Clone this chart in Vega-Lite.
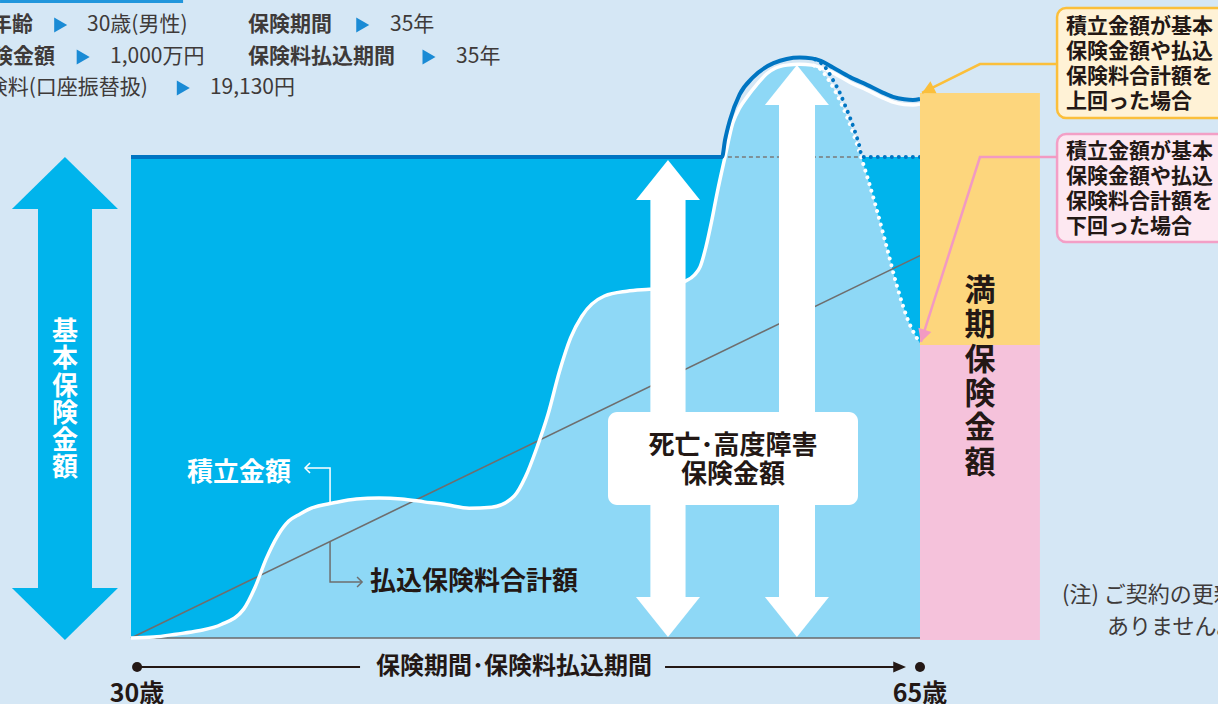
{
  "$schema": "https://vega.github.io/schema/vega-lite/v6.json",
  "width": 1218,
  "height": 704,
  "autosize": {"type": "none"},
  "padding": 0,
  "background": "#d5e7f5",
  "config": {"view": {"stroke": null}, "font": "Noto Sans CJK JP", "text": {"font": "Noto Sans CJK JP"}},
  "encoding": {
    "x": {"field": "x", "type": "quantitative", "scale": {"domain": [24.1888, 78.2193], "nice": false, "zero": false}, "axis": null},
    "y": {"field": "y", "type": "quantitative", "scale": {"domain": [-137.21, 1326.4], "nice": false, "zero": false}, "axis": null}
  },
  "datasets": {
    "curve": [
      {"x": 30, "y": 0}, {"x": 31, "y": 2}, {"x": 32, "y": 8}, {"x": 33, "y": 15}, {"x": 34, "y": 28}, {"x": 35, "y": 60},
      {"x": 35.5, "y": 105}, {"x": 36, "y": 165}, {"x": 36.5, "y": 212}, {"x": 37, "y": 243}, {"x": 37.5, "y": 258}, {"x": 38, "y": 270},
      {"x": 39, "y": 281}, {"x": 40, "y": 289}, {"x": 41, "y": 291}, {"x": 42, "y": 289}, {"x": 43, "y": 283}, {"x": 44, "y": 277},
      {"x": 45, "y": 270}, {"x": 46, "y": 272}, {"x": 47, "y": 295}, {"x": 47.5, "y": 335}, {"x": 48, "y": 395}, {"x": 48.5, "y": 465},
      {"x": 49, "y": 553}, {"x": 49.5, "y": 624}, {"x": 50, "y": 669}, {"x": 51, "y": 711}, {"x": 52, "y": 721}, {"x": 53, "y": 725},
      {"x": 53.5, "y": 727}, {"x": 54, "y": 731}, {"x": 54.5, "y": 740}, {"x": 55, "y": 755}, {"x": 55.25, "y": 772}, {"x": 55.5, "y": 812},
      {"x": 55.75, "y": 865}, {"x": 56, "y": 925}, {"x": 56.35, "y": 1000}, {"x": 56.7, "y": 1071}, {"x": 57, "y": 1102}, {"x": 57.33, "y": 1125},
      {"x": 57.75, "y": 1150}, {"x": 58.2, "y": 1173}, {"x": 58.6, "y": 1185}, {"x": 59.1, "y": 1191}, {"x": 59.67, "y": 1193}, {"x": 60.2, "y": 1191},
      {"x": 60.6, "y": 1186}, {"x": 61.14, "y": 1175}, {"x": 61.9, "y": 1155}, {"x": 62.65, "y": 1139}, {"x": 63.3, "y": 1124}, {"x": 63.8, "y": 1114},
      {"x": 64.3, "y": 1109}, {"x": 64.69, "y": 1108}, {"x": 65, "y": 1110}
    ],
    "area": [
      {"x": 30, "y": 0}, {"x": 31, "y": 2}, {"x": 32, "y": 8}, {"x": 33, "y": 15}, {"x": 34, "y": 28}, {"x": 35, "y": 60},
      {"x": 35.5, "y": 105}, {"x": 36, "y": 165}, {"x": 36.5, "y": 212}, {"x": 37, "y": 243}, {"x": 37.5, "y": 258}, {"x": 38, "y": 270},
      {"x": 39, "y": 281}, {"x": 40, "y": 289}, {"x": 41, "y": 291}, {"x": 42, "y": 289}, {"x": 43, "y": 283}, {"x": 44, "y": 277},
      {"x": 45, "y": 270}, {"x": 46, "y": 272}, {"x": 47, "y": 295}, {"x": 47.5, "y": 335}, {"x": 48, "y": 395}, {"x": 48.5, "y": 465},
      {"x": 49, "y": 553}, {"x": 49.5, "y": 624}, {"x": 50, "y": 669}, {"x": 51, "y": 711}, {"x": 52, "y": 721}, {"x": 53, "y": 725},
      {"x": 53.5, "y": 727}, {"x": 54, "y": 731}, {"x": 54.5, "y": 740}, {"x": 55, "y": 755}, {"x": 55.25, "y": 772}, {"x": 55.5, "y": 812},
      {"x": 55.75, "y": 865}, {"x": 56, "y": 925}, {"x": 56.35, "y": 1000}, {"x": 56.7, "y": 1071}, {"x": 57, "y": 1102}, {"x": 57.33, "y": 1125},
      {"x": 57.75, "y": 1150}, {"x": 58.2, "y": 1173}, {"x": 58.6, "y": 1185}, {"x": 59.1, "y": 1191}, {"x": 59.67, "y": 1193}, {"x": 60.2, "y": 1191},
      {"x": 60.5, "y": 1186}, {"x": 61, "y": 1156}, {"x": 61.5, "y": 1112}, {"x": 62, "y": 1054}, {"x": 62.5, "y": 983}, {"x": 63, "y": 904},
      {"x": 63.5, "y": 817}, {"x": 64, "y": 728}, {"x": 64.5, "y": 657}, {"x": 65, "y": 613}
    ],
    "lower": [
      {"x": 60.3, "y": 1190}, {"x": 60.5, "y": 1186}, {"x": 61, "y": 1156}, {"x": 61.5, "y": 1112}, {"x": 62, "y": 1054}, {"x": 62.5, "y": 983},
      {"x": 63, "y": 904}, {"x": 63.5, "y": 817}, {"x": 64, "y": 728}, {"x": 64.5, "y": 657}, {"x": 65, "y": 613}
    ],
    "benefit": [
      {"x": 30, "y": 1000}, {"x": 56.22, "y": 1000}, {"x": 56.35, "y": 1035}, {"x": 56.57, "y": 1077}, {"x": 57, "y": 1130}, {"x": 57.6, "y": 1166},
      {"x": 58.5, "y": 1195}, {"x": 59.67, "y": 1207}, {"x": 60.2, "y": 1205}, {"x": 60.6, "y": 1200}, {"x": 61.14, "y": 1186}, {"x": 61.9, "y": 1166},
      {"x": 62.65, "y": 1150}, {"x": 63.3, "y": 1135}, {"x": 63.8, "y": 1125}, {"x": 64.3, "y": 1120}, {"x": 64.69, "y": 1118.5}, {"x": 65, "y": 1120.5}
    ],
    "benefitLower": [
      {"x": 60.35, "y": 1203}, {"x": 60.79, "y": 1187}, {"x": 61.14, "y": 1160}, {"x": 61.45, "y": 1133}, {"x": 61.67, "y": 1108}, {"x": 61.9, "y": 1081},
      {"x": 62.12, "y": 1052}, {"x": 62.3, "y": 1025}, {"x": 62.43, "y": 1000}, {"x": 63, "y": 1000}, {"x": 65, "y": 1000}
    ]
  },
  "layer": [
    {"data": {"values": [{"x": 30, "x2": 65, "y": 0, "y2": 1000}]}, "mark": {"type": "rect", "color": "#00b4ec"},
     "encoding": {"x2": {"field": "x2"}, "y2": {"field": "y2"}}},
    {"data": {"name": "area"}, "mark": {"type": "area", "interpolate": "monotone", "color": "#8ed8f6", "opacity": 1},
     "encoding": {"y2": {"datum": 0}}},
    {"data": {"values": [{"x": 30, "x2": 65, "y": 0}]}, "mark": {"type": "rule", "color": "#6a6a6a", "strokeWidth": 1.5},
     "encoding": {"x2": {"field": "x2"}}},
    {"data": {"values": [{"x": 56.48, "x2": 62.34, "y": 1000}]}, "mark": {"type": "rule", "color": "#7a7a7a", "strokeWidth": 1.5, "strokeDash": [4, 3]},
     "encoding": {"x2": {"field": "x2"}}},
    {"data": {"values": [{"x": 30, "y": 0}, {"x": 65, "y": 795}]}, "mark": {"type": "line", "color": "#6e6e6e", "strokeWidth": 1.6},
     "encoding": {}},
    {"data": {"name": "curve"}, "mark": {"type": "line", "interpolate": "monotone", "color": "#ffffff", "strokeWidth": 3.5}, "encoding": {}},
    {"data": {"name": "benefit"}, "mark": {"type": "line", "interpolate": "monotone", "color": "#0075c2", "strokeWidth": 4}, "encoding": {}},
    {"data": {"name": "lower"}, "mark": {"type": "line", "interpolate": "monotone", "color": "#ffffff", "strokeWidth": 4, "strokeDash": [0.01, 7], "strokeCap": "round"}, "encoding": {}},
    {"data": {"name": "benefitLower"}, "mark": {"type": "line", "interpolate": "monotone", "color": "#0075c2", "strokeWidth": 4, "strokeDash": [0.01, 7], "strokeCap": "round"}, "encoding": {}},
    {"data": {"values": [{"x": 53.04, "x2": 54.6, "y": 84, "y2": 912}, {"x": 58.745, "x2": 60.343, "y": 84, "y2": 1110}]},
     "mark": {"type": "rect", "color": "#ffffff"}, "encoding": {"x2": {"field": "x2"}, "y2": {"field": "y2"}}},
    {"data": {"values": [{"x": 53.82, "y": 993.8}, {"x": 59.54, "y": 1191.3}]},
     "mark": {"type": "point", "shape": "M0,0L-2,2.5L2,2.5Z", "size": 1024, "filled": true, "opacity": 1, "color": "#ffffff", "strokeWidth": 0}, "encoding": {}},
    {"data": {"values": [{"x": 53.82, "y": 2.1}, {"x": 59.54, "y": 2.1}]},
     "mark": {"type": "point", "shape": "M0,0L-2,-2.5L2,-2.5Z", "size": 1024, "filled": true, "opacity": 1, "color": "#ffffff", "strokeWidth": 0}, "encoding": {}},
    {"data": {"values": [{"x": 25.875, "x2": 28.27, "y": 100, "y2": 895}]},
     "mark": {"type": "rect", "color": "#00b4ec"}, "encoding": {"x2": {"field": "x2"}, "y2": {"field": "y2"}}},
    {"data": {"values": [{"x": 27.07, "y": 1000}]},
     "mark": {"type": "point", "shape": "M0,0L-2,1.96L2,1.96Z", "size": 2809, "filled": true, "opacity": 1, "color": "#00b4ec", "strokeWidth": 0}, "encoding": {}},
    {"data": {"values": [{"x": 27.07, "y": -4.2}]},
     "mark": {"type": "point", "shape": "M0,0L-2,-1.96L2,-1.96Z", "size": 2809, "filled": true, "opacity": 1, "color": "#00b4ec", "strokeWidth": 0}, "encoding": {}},
    {"data": {"values": [{"x": 27.07, "y": 636.2, "text": "基\n本\n保\n険\n金\n額"}]},
     "mark": {"type": "text", "lineBreak": "\n", "lineHeight": 27.3, "fontSize": 26, "fontWeight": "bold", "color": "#ffffff", "align": "center", "baseline": "middle"},
     "encoding": {"text": {"field": "text"}}},
    {"data": {"values": [{"x": 65, "x2": 70.32, "y": 609.1, "y2": 1133.1}]},
     "mark": {"type": "rect", "color": "#fdd67d"}, "encoding": {"x2": {"field": "x2"}, "y2": {"field": "y2"}}},
    {"data": {"values": [{"x": 65, "x2": 70.32, "y": -4, "y2": 609.1}]},
     "mark": {"type": "rect", "color": "#f5c2db"}, "encoding": {"x2": {"field": "x2"}, "y2": {"field": "y2"}}},
    {"data": {"values": [{"x": 67.66, "y": 719.3, "text": "満\n期\n保\n険\n金\n額"}]},
     "mark": {"type": "text", "lineBreak": "\n", "lineHeight": 34.3, "fontSize": 31, "fontWeight": "bold", "color": "#231815", "align": "center", "baseline": "middle"},
     "encoding": {"text": {"field": "text"}}},
    {"data": {"values": [{"x": 51.16, "x2": 62.25, "y": 276.5, "y2": 469.85}]},
     "mark": {"type": "rect", "color": "#ffffff", "cornerRadius": 9}, "encoding": {"x2": {"field": "x2"}, "y2": {"field": "y2"}}},
    {"data": {"values": [{"x": 56.7, "y": 399.2, "text": "死亡･高度障害"}, {"x": 56.7, "y": 338.9, "text": "保険金額"}]},
     "mark": {"type": "text", "fontSize": 26, "fontWeight": "bold", "color": "#231815", "align": "center", "baseline": "middle"},
     "encoding": {"text": {"field": "text"}}},
    {"data": {"values": [{"x": 71.08, "x2": 79, "y": 1081.1, "y2": 1309.8}]},
     "mark": {"type": "rect", "color": "#fff2d6", "stroke": "#fbbf3b", "strokeWidth": 2.5, "cornerRadius": 9}, "encoding": {"x2": {"field": "x2"}, "y2": {"field": "y2"}}},
    {"data": {"values": [{"x": 71.08, "x2": 79, "y": 823.3, "y2": 1047.8}]},
     "mark": {"type": "rect", "color": "#fde8f1", "stroke": "#f39fc6", "strokeWidth": 2.5, "cornerRadius": 9}, "encoding": {"x2": {"field": "x2"}, "y2": {"field": "y2"}}},
    {"data": {"values": [
      {"x": 71.48, "y": 1270.3, "text": "積立金額が基本"}, {"x": 71.48, "y": 1218.3, "text": "保険金額や払込"},
      {"x": 71.48, "y": 1166.3, "text": "保険料合計額を"}, {"x": 71.48, "y": 1114.3, "text": "上回った場合"},
      {"x": 71.48, "y": 1010.4, "text": "積立金額が基本"}, {"x": 71.48, "y": 958.4, "text": "保険金額や払込"},
      {"x": 71.48, "y": 906.4, "text": "保険料合計額を"}, {"x": 71.48, "y": 854.5, "text": "下回った場合"}]},
     "mark": {"type": "text", "fontSize": 21, "fontWeight": "bold", "color": "#231815", "align": "left", "baseline": "middle"},
     "encoding": {"text": {"field": "text"}}},
    {"data": {"values": [{"x": 71.08, "y": 1193.3, "i": 0}, {"x": 67.66, "y": 1193.3, "i": 1}, {"x": 65.09, "y": 1133.1, "i": 2}]},
     "mark": {"type": "line", "color": "#fbbf3b", "strokeWidth": 2.5}, "encoding": {"order": {"field": "i"}}},
    {"data": {"values": [{"x": 65.09, "y": 1133.1}]},
     "mark": {"type": "point", "shape": "M0,0L-0.85,1.6L0.85,1.6Z", "size": 256, "angle": 243.4, "filled": true, "opacity": 1, "color": "#fbbf3b", "strokeWidth": 0}, "encoding": {}},
    {"data": {"values": [{"x": 71.08, "y": 1000, "i": 0}, {"x": 67.66, "y": 1000, "i": 1}, {"x": 65.04, "y": 615.4, "i": 2}]},
     "mark": {"type": "line", "color": "#f29ac2", "strokeWidth": 2.5}, "encoding": {"order": {"field": "i"}}},
    {"data": {"values": [{"x": 65.04, "y": 615.4}]},
     "mark": {"type": "point", "shape": "M0,0L-0.85,1.6L0.85,1.6Z", "size": 256, "angle": 197.9, "filled": true, "opacity": 1, "color": "#f29ac2", "strokeWidth": 0}, "encoding": {}},
    {"data": {"values": [{"x": 32.48, "y": 343.0, "text": "積立金額"}]},
     "mark": {"type": "text", "fontSize": 26, "fontWeight": "bold", "color": "#ffffff", "align": "left", "baseline": "middle"},
     "encoding": {"text": {"field": "text"}}},
    {"data": {"values": [{"x": 37.72, "y": 353.4, "i": 0}, {"x": 38.83, "y": 353.4, "i": 1}, {"x": 38.83, "y": 281, "i": 2}]},
     "mark": {"type": "line", "color": "#ffffff", "strokeWidth": 1.5}, "encoding": {"order": {"field": "i"}}},
    {"data": {"values": [{"x": 37.72, "y": 353.4}]},
     "mark": {"type": "point", "shape": "M1,-1L0,0L1,1", "size": 100, "filled": false, "opacity": 1, "color": "#ffffff", "strokeWidth": 1.5}, "encoding": {}},
    {"data": {"values": [{"x": 40.6, "y": 116.4, "text": "払込保険料合計額"}]},
     "mark": {"type": "text", "fontSize": 26, "fontWeight": "bold", "color": "#231815", "align": "left", "baseline": "middle"},
     "encoding": {"text": {"field": "text"}}},
    {"data": {"values": [{"x": 38.83, "y": 200, "i": 0}, {"x": 38.83, "y": 116.4, "i": 1}, {"x": 40.25, "y": 116.4, "i": 2}]},
     "mark": {"type": "line", "color": "#6e6e6e", "strokeWidth": 1.5}, "encoding": {"order": {"field": "i"}}},
    {"data": {"values": [{"x": 40.25, "y": 116.4}]},
     "mark": {"type": "point", "shape": "M-1,-1L0,0L-1,1", "size": 100, "filled": false, "opacity": 1, "color": "#6e6e6e", "strokeWidth": 1.5}, "encoding": {}},
    {"data": {"values": [{"x": 30.27, "x2": 40.16, "y": -60.3}, {"x": 53.69, "x2": 64.2, "y": -60.3}]},
     "mark": {"type": "rule", "color": "#231815", "strokeWidth": 2}, "encoding": {"x2": {"field": "x2"}}},
    {"data": {"values": [{"x": 64.38, "y": -60.3}]},
     "mark": {"type": "point", "shape": "M0,0L-1.6,-0.7L-1.6,0.7Z", "size": 256, "filled": true, "opacity": 1, "color": "#231815", "strokeWidth": 0}, "encoding": {}},
    {"data": {"values": [{"x": 30.27, "y": -60.3}, {"x": 65, "y": -60.3}]},
     "mark": {"type": "point", "shape": "circle", "size": 100, "filled": true, "opacity": 1, "color": "#231815", "strokeWidth": 0}, "encoding": {}},
    {"data": {"values": [{"x": 46.99, "y": -60.3, "text": "保険期間･保険料払込期間"}]},
     "mark": {"type": "text", "fontSize": 24, "fontWeight": "bold", "color": "#231815", "align": "center", "baseline": "middle"},
     "encoding": {"text": {"field": "text"}}},
    {"data": {"values": [{"x": 30.27, "y": -116.4, "text": "30歳"}, {"x": 65, "y": -116.4, "text": "65歳"}]},
     "mark": {"type": "text", "fontSize": 25, "fontWeight": "bold", "color": "#231815", "align": "center", "baseline": "middle"},
     "encoding": {"text": {"field": "text"}}},
    {"data": {"values": [{"x": 24.19, "x2": 32.31, "y": 1323.3}]},
     "mark": {"type": "rule", "color": "#2196dc", "strokeWidth": 3}, "encoding": {"x2": {"field": "x2"}}},
    {"data": {"values": [{"x": 25.65, "y": 1274.4, "text": "契約年齢"}, {"x": 26.63, "y": 1207.9, "text": "基本保険金額"}]},
     "mark": {"type": "text", "fontSize": 21, "fontWeight": "bold", "color": "#3e3a39", "align": "right", "baseline": "middle"},
     "encoding": {"text": {"field": "text"}}},
    {"data": {"values": [{"x": 30.75, "y": 1143.4, "text": "保険料(口座振替扱)"}]},
     "mark": {"type": "text", "fontSize": 21, "color": "#3e3a39", "align": "right", "baseline": "middle"},
     "encoding": {"text": {"field": "text"}}},
    {"data": {"values": [{"x": 35.19, "y": 1274.4, "text": "保険期間"}, {"x": 35.19, "y": 1207.9, "text": "保険料払込期間"}]},
     "mark": {"type": "text", "fontSize": 21, "fontWeight": "bold", "color": "#3e3a39", "align": "left", "baseline": "middle"},
     "encoding": {"text": {"field": "text"}}},
    {"data": {"values": [
      {"x": 28.05, "y": 1274.4, "text": "30歳(男性)"}, {"x": 41.49, "y": 1274.4, "text": "35年"},
      {"x": 29.07, "y": 1207.9, "text": "1,000万円"}, {"x": 44.42, "y": 1207.9, "text": "35年"},
      {"x": 33.5, "y": 1143.4, "text": "19,130円"}]},
     "mark": {"type": "text", "fontSize": 21, "color": "#3e3a39", "align": "left", "baseline": "middle"},
     "encoding": {"text": {"field": "text"}}},
    {"data": {"values": [{"x": 26.88, "y": 1274.4}, {"x": 40.28, "y": 1274.4}, {"x": 27.88, "y": 1207.9}, {"x": 43.22, "y": 1207.9}, {"x": 32.32, "y": 1143.4}]},
     "mark": {"type": "point", "shape": "triangle-right", "size": 225, "filled": true, "opacity": 1, "color": "#1a8bd5", "strokeWidth": 0}, "encoding": {}},
    {"data": {"values": [{"x": 71.3, "y": 89.4, "text": "(注) ご契約の更新は"}, {"x": 73.3, "y": 22.9, "text": "ありません。"}]},
     "mark": {"type": "text", "fontSize": 22, "color": "#3e3a39", "align": "left", "baseline": "middle"},
     "encoding": {"text": {"field": "text"}}}
  ]
}
